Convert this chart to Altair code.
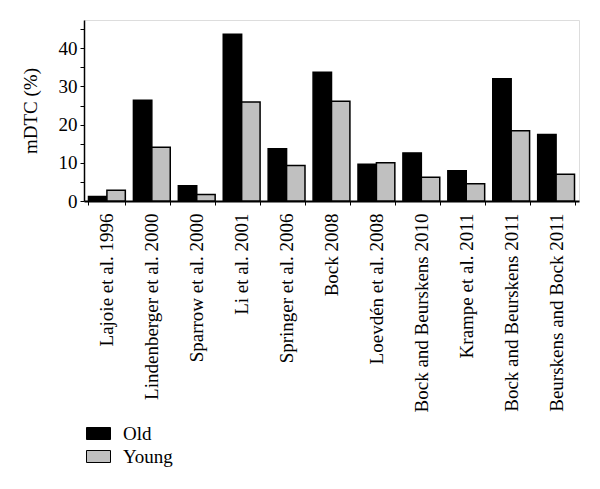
import altair as alt
import pandas as pd

studies = ["Lajoie et al. 1996", "Lindenberger et al. 2000", "Sparrow et al. 2000",
           "Li et al. 2001", "Springer et al. 2006", "Bock 2008", "Loevdén et al. 2008",
           "Bock and Beurskens 2010", "Krampe et al. 2011", "Bock and Beurskens 2011",
           "Beurskens and Bock 2011"]
old = [1.2, 26.4, 4.0, 43.7, 13.7, 33.7, 9.6, 12.6, 7.9, 32.0, 17.4]
young = [2.8, 14.1, 1.7, 25.9, 9.3, 26.1, 10.0, 6.2, 4.5, 18.4, 7.0]
groups = ["Old", "Young"]
colors = ["#000000", "#c0c0c0"]
y_ticks = [0, 5, 10, 15, 20, 25, 30, 35, 40, 45]

rows = []
for i, s in enumerate(studies):
    rows.append({"study": s, "group": "Old", "value": old[i]})
    rows.append({"study": s, "group": "Young", "value": young[i]})
df = pd.DataFrame(rows)

FONT = "Liberation Serif"

chart = alt.Chart(df).mark_bar(stroke="black", strokeWidth=1.5).encode(
    x=alt.X("study:N", sort=studies, title=None,
            scale=alt.Scale(paddingInner=0.18, paddingOuter=0.1),
            axis=alt.Axis(labelAngle=-90, labelAlign="right", labelBaseline="middle",
                          labelFontSize=19, labelFont=FONT, labelColor="black",
                          labelPadding=8, tickBand="extent", tickSize=4,
                          tickColor="black", domainColor="black", domainWidth=2,
                          labelLimit=400)),
    xOffset=alt.XOffset("group:N", sort=groups),
    y=alt.Y("value:Q", title="mDTC (%)",
            scale=alt.Scale(domain=[0, 47.4], nice=False),
            axis=alt.Axis(values=y_ticks,
                          labelExpr="datum.value % 10 == 0 ? datum.label : ''",
                          labelFontSize=19, labelFont=FONT, labelColor="black",
                          titleFont=FONT, titleFontSize=19, titleFontWeight="normal",
                          titleColor="black", titlePadding=18,
                          tickSize=4, tickColor="black", domainColor="black",
                          domainWidth=1.5, grid=False, labelPadding=3)),
    fill=alt.Fill("group:N", sort=groups,
                  scale=alt.Scale(domain=groups, range=colors),
                  legend=alt.Legend(title=None, orient="none", legendX=2, legendY=401,
                                    symbolType="M-1,-0.5L1,-0.5L1,0.5L-1,0.5Z",
                                    symbolSize=576, symbolStrokeColor="black",
                                    symbolStrokeWidth=1, labelFont=FONT,
                                    labelFontSize=19, labelColor="black",
                                    rowPadding=0, labelOffset=12)),
).properties(
    width=495, height=181,
    autosize=alt.AutoSizeParams(type="none"),
    padding={"left": 76, "top": 12, "right": 13, "bottom": 280},
).configure_view(stroke=None).configure(background="white", font=FONT)

chart.save("out.html", embed_options={"renderer": "svg", "actions": False})
